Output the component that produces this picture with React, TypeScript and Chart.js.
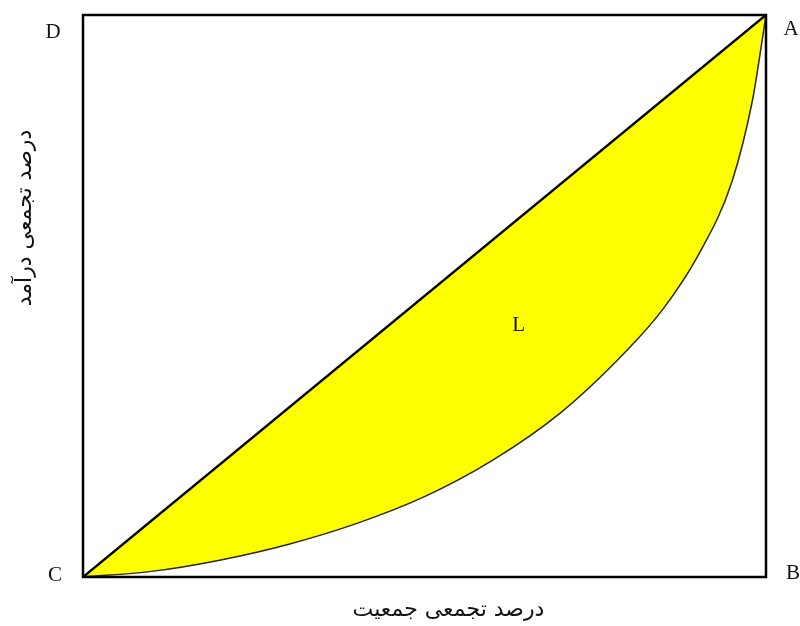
import React, { useEffect, useRef } from "react";
import { Chart, registerables } from "chart.js";

Chart.register(...registerables);

// Cumulative population share (%) and cumulative income share (%)
const populationShares = [0, 10, 20, 30, 40, 50, 60, 70, 80, 85, 90, 95, 98, 99, 100];
const incomeShares = [0, 1.0, 3.0, 5.8, 9.5, 14.3, 20.8, 29.3, 40.8, 47.8, 57.1, 70.3, 84.7, 92.0, 100];
// Line of equality: income share equals population share
const equalityX = [0, 100];
const equalityY = [0, 100];

const cornerLabels = ["A", "B", "C", "D"];
const areaLabel = "L";
const areaLabelPos = [63.5, 44.8];
const xTitle = "درصد تجمعی جمعیت";
const yTitle = "درصد تجمعی درآمد";

const decorPlugin = {
  id: "decor",
  afterDatasetsDraw(chart: any) {
    const { ctx, scales } = chart;
    const xs = scales.x;
    const ys = scales.y;
    const left = xs.getPixelForValue(0);
    const right = xs.getPixelForValue(100);
    const top = ys.getPixelForValue(100);
    const bottom = ys.getPixelForValue(0);
    ctx.save();
    // frame
    ctx.strokeStyle = "#000";
    ctx.lineWidth = 2.5;
    ctx.strokeRect(left, top, right - left, bottom - top);

    // corner letters
    ctx.fillStyle = "#111";
    ctx.font = '21px "Liberation Serif", "DejaVu Serif", serif';
    ctx.textBaseline = "middle";
    ctx.textAlign = "center";
    const [A, B, C, D] = cornerLabels;
    ctx.fillText(A, right + 25, top + 14);
    ctx.fillText(B, right + 27, bottom - 4);
    ctx.fillText(C, left - 28, bottom - 2);
    ctx.fillText(D, left - 30, top + 17);

    // area label
    ctx.fillText(areaLabel, xs.getPixelForValue(areaLabelPos[0]) + 2, ys.getPixelForValue(areaLabelPos[1]));

    // axis titles
    ctx.font = '22px "DejaVu Sans", sans-serif';
    ctx.direction = "rtl";
    ctx.textAlign = "center";
    ctx.fillText(xTitle, (left + right) / 2 + 24, bottom + 33);

    ctx.translate(left - 58, (top + bottom) / 2 - 78);
    ctx.rotate(-Math.PI / 2);
    ctx.fillText(yTitle, 0, 0);
    ctx.restore();
  },
};

export default function App() {
  const ref = useRef<HTMLCanvasElement | null>(null);

  useEffect(() => {
    if (!ref.current) return;
    const chart = new Chart(ref.current, {
      type: "line",
      data: {
        datasets: [
          {
            label: "equality",
            data: equalityX.map((x, i) => ({ x, y: equalityY[i] })),
            borderColor: "#000",
            borderWidth: 2.5,
            pointRadius: 0,
            tension: 0,
            fill: false,
          },
          {
            label: "lorenz",
            data: populationShares.map((x, i) => ({ x, y: incomeShares[i] })),
            borderColor: "#2b2b00",
            borderWidth: 1.5,
            pointRadius: 0,
            cubicInterpolationMode: "monotone",
            fill: { target: 0 },
            backgroundColor: "#ffff00",
          },
        ],
      },
      options: {
        responsive: false,
        animation: false,
        layout: { padding: { left: 83, right: 34, top: 15, bottom: 49 } },
        plugins: { legend: { display: false }, tooltip: { enabled: false } },
        scales: {
          x: { type: "linear", min: 0, max: 100, display: false },
          y: { type: "linear", min: 0, max: 100, display: false },
        },
      },
      plugins: [decorPlugin],
    });
    return () => chart.destroy();
  }, []);

  return (
    <div style={{ position: "fixed", left: 0, top: 0, width: 800, height: 626, background: "#fff" }}>
      <canvas ref={ref} width={800} height={626} style={{ display: "block" }} />
    </div>
  );
}
